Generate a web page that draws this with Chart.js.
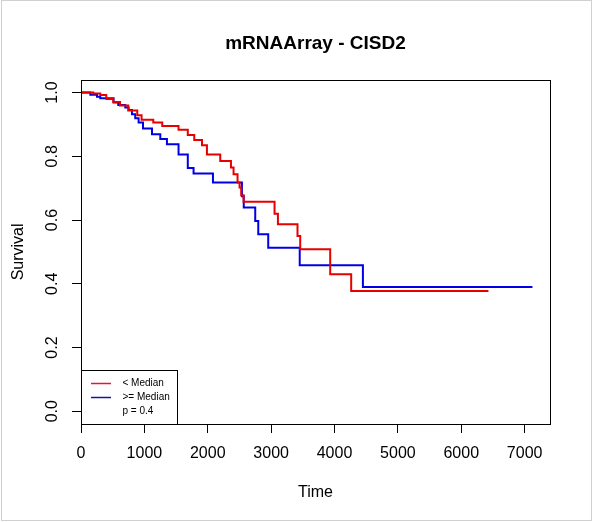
<!DOCTYPE html>
<html>
<head>
<meta charset="utf-8">
<script src="https://cdn.jsdelivr.net/npm/chart.js@4/dist/chart.umd.min.js"></script>
<style>
  body { margin: 0; background: #fff; }
  #wrap { width: 593px; height: 522px; }
</style>
</head>
<body>
<div id="wrap"><canvas id="km" width="593" height="522"></canvas></div>
<script>
// Kaplan-Meier steps (time, survival after the drop)
var lowTimes = [0, 194, 304, 399, 509, 615, 746, 888, 956, 1140, 1282, 1539, 1685, 1787, 1909, 1987,
                2197, 2366, 2407, 2470, 2502, 2528, 2565, 3054, 3107, 3416, 3459, 3932, 4263, 6429];
var lowSurv  = [1.0, 0.997, 0.992, 0.980, 0.970, 0.959, 0.944, 0.929, 0.915, 0.906, 0.895, 0.883, 0.867, 0.851, 0.835, 0.806,
                0.785, 0.765, 0.744, 0.718, 0.702, 0.678, 0.657, 0.620, 0.587, 0.550, 0.508, 0.430, 0.377, 0.377];

var highTimes = [0, 147, 252, 304, 514, 588, 699, 751, 804, 856, 909, 978, 1120, 1251, 1356, 1539,
                 1685, 1776, 2082, 2539, 2568, 2749, 2797, 2954, 3451, 4448, 7123];
var highSurv  = [1.0, 0.993, 0.987, 0.982, 0.969, 0.961, 0.953, 0.945, 0.932, 0.919, 0.906, 0.887, 0.869, 0.854, 0.838, 0.806,
                 0.763, 0.746, 0.718, 0.675, 0.639, 0.597, 0.555, 0.513, 0.458, 0.390, 0.390];

var xTicks = [0, 1000, 2000, 3000, 4000, 5000, 6000, 7000];
var yTicks = [0.0, 0.2, 0.4, 0.6, 0.8, 1.0];

var legendLabels = ['< Median', '>= Median'];
var pValueText = 'p = 0.4';

function toPoints(ts, ss) {
    var pts = [];
    for (var i = 0; i < ts.length; i++) pts.push({ x: ts[i], y: ss[i] });
    return pts;
}

// box round the plot, legend in bottom-left corner, light frame round the figure
var decorPlugin = {
    id: 'decor',
    afterDraw: function(chart) {
        var ctx = chart.ctx;
        var a = chart.chartArea;
        ctx.save();
        ctx.strokeStyle = '#000';
        ctx.lineWidth = 1;
        ctx.strokeRect(Math.round(a.left) + 0.5, Math.round(a.top) + 0.5,
                       Math.round(a.right - a.left), Math.round(a.bottom - a.top));

        // legend
        var lx = Math.round(a.left) + 0.5, ly = 370.5, lw = 96, lh = Math.round(a.bottom) - 370;
        ctx.fillStyle = '#fff';
        ctx.fillRect(lx, ly, lw, lh);
        ctx.strokeRect(lx, ly, lw, lh);
        var cols = ['rgb(235,20,40)', 'rgb(20,20,170)'];
        ctx.font = '10px "Liberation Sans", Arial, sans-serif';
        ctx.textBaseline = 'middle';
        for (var i = 0; i < 2; i++) {
            var yy = 383.5 + i * 14;
            ctx.strokeStyle = cols[i];
            ctx.lineWidth = 1.5;
            ctx.beginPath();
            ctx.moveTo(lx + 9.5, yy);
            ctx.lineTo(lx + 29.5, yy);
            ctx.stroke();
            ctx.fillStyle = '#000';
            ctx.fillText(legendLabels[i], lx + 41, yy);
        }
        ctx.fillText(pValueText, lx + 41, 411.5);

        ctx.lineWidth = 1;
        ctx.strokeStyle = '#d0d0d0';
        ctx.strokeRect(1.5, 0.5, chart.width - 3, chart.height - 2);
        ctx.restore();
    }
};

var ctx = document.getElementById('km').getContext('2d');
var chart = new Chart(ctx, {
    type: 'line',
    data: {
        datasets: [
            {
                label: legendLabels[0],
                data: toPoints(lowTimes, lowSurv),
                borderColor: 'rgb(230,0,0)',
                borderWidth: 2,
                stepped: true,
                pointRadius: 0,
                fill: false
            },
            {
                label: legendLabels[1],
                data: toPoints(highTimes, highSurv),
                borderColor: 'rgb(0,0,230)',
                borderWidth: 2,
                stepped: true,
                pointRadius: 0,
                fill: false
            }
        ]
    },
    options: {
        responsive: false,
        animation: false,
        layout: { padding: { left: 0, right: 43, top: 0, bottom: 0 } },
        plugins: {
            legend: { display: false },
            tooltip: { enabled: false },
            title: {
                display: true,
                fullSize: false,
                text: 'mRNAArray - CISD2',
                color: '#000',
                font: { family: '"Liberation Sans", Arial, sans-serif', size: 19, weight: 'bold' },
                padding: { top: 32, bottom: 25 }
            }
        },
        scales: {
            x: {
                type: 'linear',
                min: 0,
                max: 7400,
                border: { display: false },
                grid: { display: true, drawOnChartArea: false, drawTicks: true, tickLength: 9, color: '#000' },
                ticks: {
                    color: '#000',
                    padding: 11,
                    autoSkip: false,
                    maxRotation: 0,
                    font: { family: '"Liberation Sans", Arial, sans-serif', size: 16 },
                    callback: function(v) { return String(v); }
                },
                afterBuildTicks: function(scale) {
                    scale.ticks = xTicks.map(function(v) { return { value: v }; });
                },
                afterFit: function(scale) { scale.height = 98; },
                title: {
                    display: true,
                    text: 'Time',
                    color: '#000',
                    font: { family: '"Liberation Sans", Arial, sans-serif', size: 16 },
                    padding: { top: 0, bottom: 20 }
                }
            },
            y: {
                type: 'linear',
                min: -0.04,
                max: 1.04,
                border: { display: false },
                grid: { display: true, drawOnChartArea: false, drawTicks: true, tickLength: 9, color: '#000' },
                ticks: {
                    color: '#000',
                    padding: 8,
                    minRotation: 90,
                    maxRotation: 90,
                    crossAlign: 'center',
                    font: { family: '"Liberation Sans", Arial, sans-serif', size: 16 },
                    callback: function(v) { return v.toFixed(1); }
                },
                afterBuildTicks: function(scale) {
                    scale.ticks = yTicks.map(function(v) { return { value: v }; });
                },
                afterFit: function(scale) { scale.width = 81; },
                title: {
                    display: true,
                    text: 'Survival',
                    color: '#000',
                    font: { family: '"Liberation Sans", Arial, sans-serif', size: 16 },
                    padding: { top: 9, bottom: 0 }
                }
            }
        }
    },
    plugins: [decorPlugin]
});
</script>
</body>
</html>
